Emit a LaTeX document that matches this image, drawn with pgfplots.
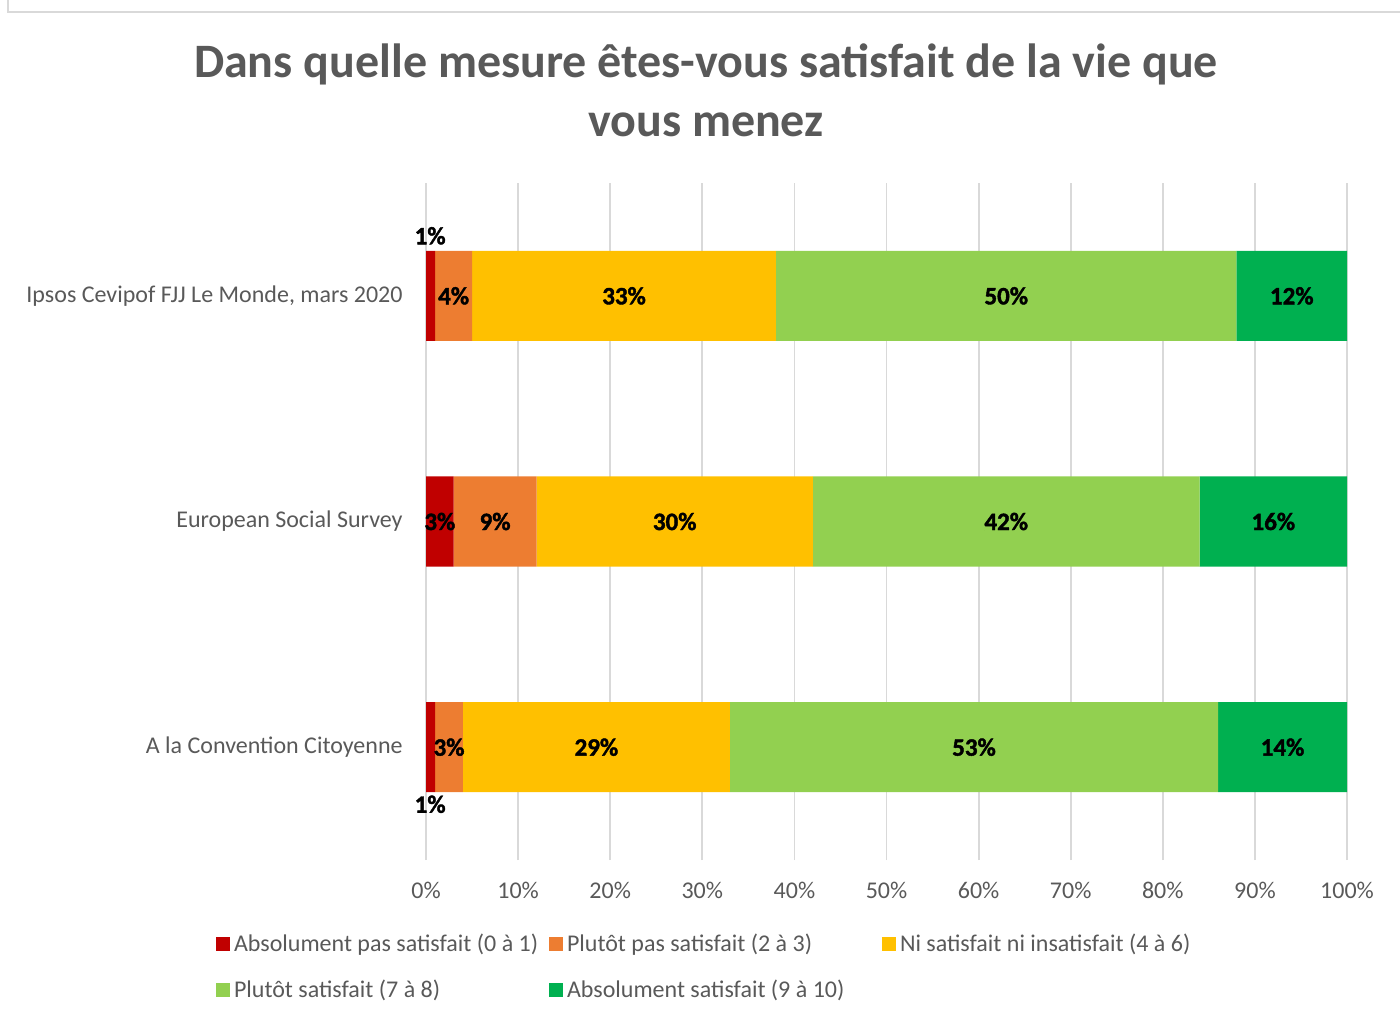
\documentclass[border=0pt]{standalone}
\usepackage{fontspec}
\setmainfont{Carlito}
\newfontfamily\heavyfont[BoldFeatures={FakeBold=1.6}]{Carlito}
\usepackage{pgfplots}
\pgfplotsset{compat=1.18}
\definecolor{cRed}{HTML}{C00000}
\definecolor{cOrange}{HTML}{ED7D31}
\definecolor{cYellow}{HTML}{FFC000}
\definecolor{cLGreen}{HTML}{92D050}
\definecolor{cGreen}{HTML}{00B050}
\definecolor{titlegray}{HTML}{595959}
\definecolor{labelgray}{HTML}{595959}
\definecolor{gridgray}{HTML}{D9D9D9}
\pgfplotsset{sq legend/.style={legend image code/.code={\fill[##1] (0pt,-3.5pt) rectangle (7pt,3.5pt);}}}
\begin{document}
\begin{tikzpicture}
\useasboundingbox (0pt,0pt) rectangle (700pt,508.5pt);
\draw[gridgray, line width=0.75pt] (4pt,600pt) -- (4pt,502.5pt) -- (800pt,502.5pt);
\node[anchor=base, font=\bfseries\fontsize{24}{28}\selectfont, text=titlegray] at (353pt,469.5pt) {Dans quelle mesure êtes-vous satisfait de la vie que};
\node[anchor=base, font=\bfseries\fontsize{24}{28}\selectfont, text=titlegray] at (353pt,440pt) {vous menez};
\begin{axis}[
  at={(213pt,78.5pt)}, anchor=south west,
  scale only axis, width=460.5pt, height=338.5pt,
  xbar stacked, bar width=45pt,
  xmin=0, xmax=100, ymin=-0.5, ymax=2.5,
  ytick={0,1,2},
  yticklabels={A la Convention Citoyenne, European Social Survey, {Ipsos Cevipof FJJ Le Monde, mars 2020}},
  xtick={0,10,...,100},
  xticklabel={\pgfmathprintnumber{\tick}\%},
  /pgf/number format/assume math mode=true,
  axis line style={draw=none},
  major tick length=0pt,
  xmajorgrids, ymajorgrids=false,
  major grid style={draw=gridgray, line width=0.9pt},
  tick label style={font=\fontsize{12}{14}\selectfont, text=labelgray},
  xticklabel style={inner sep=0pt, anchor=north, yshift=-11pt},
  yticklabel style={inner sep=0pt, anchor=east, xshift=-11.5pt},
  legend style={at={(axis description cs:-0.228,-0.1093)}, anchor=north west,
    draw=none, fill=none, inner sep=0pt, outer sep=0pt,
    font=\fontsize{12}{14}\selectfont, text=labelgray,
    nodes={inner sep=0pt}, row sep=12.5pt, column sep=0pt},
  legend columns=3,
  legend cell align=left,
]
\addplot[fill=cRed, draw=none, sq legend] coordinates {(1,2) (3,1) (1,0)};
\addlegendentry{\makebox[159.5pt][l]{\hspace{2pt}Absolument pas satisfait (0 à 1)}}
\addplot[fill=cOrange, draw=none, sq legend] coordinates {(4,2) (9,1) (3,0)};
\addlegendentry{\makebox[159.5pt][l]{\hspace{2pt}Plutôt pas satisfait (2 à 3)}}
\addplot[fill=cYellow, draw=none, sq legend] coordinates {(33,2) (30,1) (29,0)};
\addlegendentry{\makebox[159.5pt][l]{\hspace{2pt}Ni satisfait ni insatisfait (4 à 6)}}
\addplot[fill=cLGreen, draw=none, sq legend] coordinates {(50,2) (42,1) (53,0)};
\addlegendentry{\makebox[159.5pt][l]{\hspace{2pt}Plutôt satisfait (7 à 8)}}
\addplot[fill=cGreen, draw=none, sq legend] coordinates {(12,2) (16,1) (14,0)};
\addlegendentry{\makebox[159.5pt][l]{\hspace{2pt}Absolument satisfait (9 à 10)}}
\end{axis}
\begin{axis}[
  at={(213pt,78.5pt)}, anchor=south west,
  scale only axis, width=460.5pt, height=338.5pt,
  xmin=0, xmax=100, ymin=-0.5, ymax=2.5,
  hide axis,
]
\addplot[draw=none, mark=none, nodes near coords, point meta=explicit symbolic,
  every node near coord/.append style={anchor=center, font=\heavyfont\bfseries\fontsize{12.5}{14}\selectfont, text=black}]
  coordinates {
  (0.45,2.266) [1\%] (3,2) [4\%] (21.5,2) [33\%] (63,2) [50\%] (94,2) [12\%]
  (1.5,1) [3\%] (7.5,1) [9\%] (27,1) [30\%] (63,1) [42\%] (92,1) [16\%]
  (0.45,-0.253) [1\%] (2.5,0) [3\%] (18.5,0) [29\%] (59.5,0) [53\%] (93,0) [14\%]
  };
\end{axis}
\end{tikzpicture}
\end{document}
